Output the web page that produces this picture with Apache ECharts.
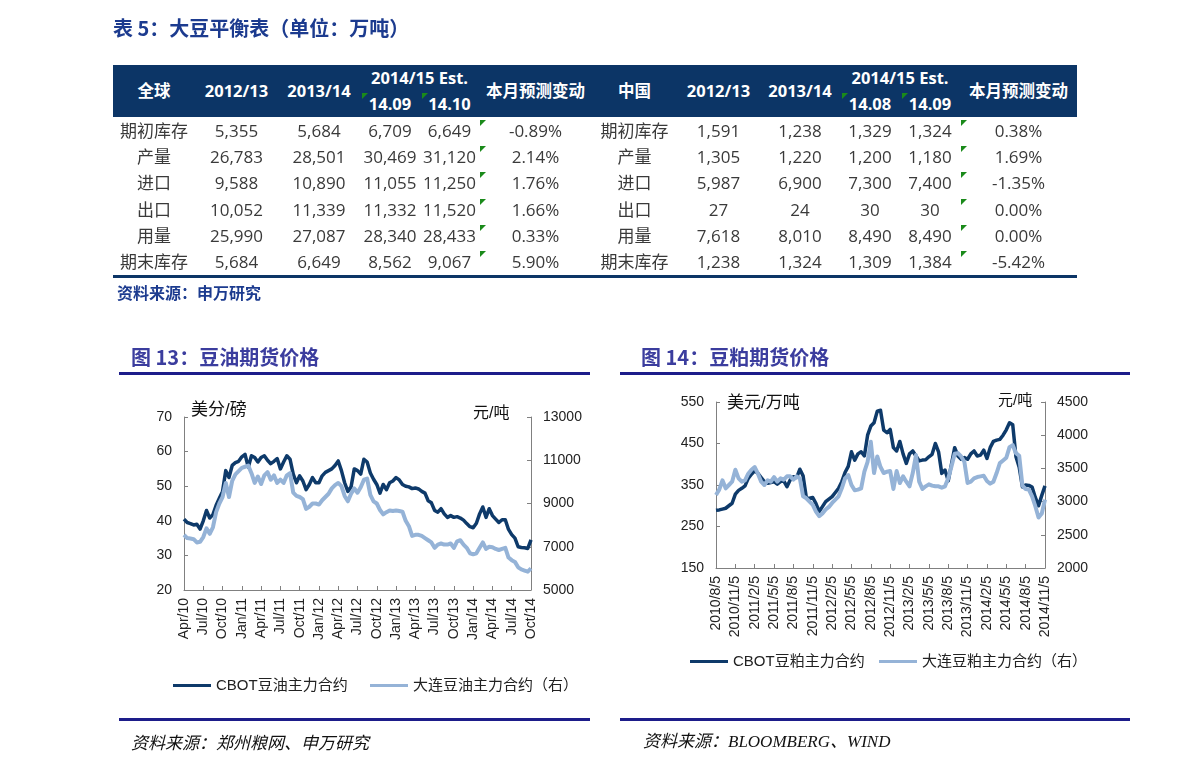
<!DOCTYPE html>
<html><head><meta charset="utf-8">
<script src="https://cdn.jsdelivr.net/npm/echarts@6/dist/echarts.min.js"></script>
<style>
html,body{margin:0;padding:0;background:#fff;}
body{width:1191px;height:770px;position:relative;overflow:hidden;font-family:"Liberation Sans","Noto Sans CJK SC",sans-serif;}
.a{position:absolute;white-space:nowrap;}
.c{position:absolute;white-space:nowrap;text-align:center;}
.tb{font-family:"Open Sans","Noto Sans CJK SC",sans-serif;font-size:17px;color:#3a3a3a;}
.th{font-family:"Open Sans","Noto Sans CJK SC",sans-serif;font-size:16.5px;font-weight:bold;color:#fff;}
.tri{position:absolute;width:0;height:0;border-top:6px solid #1a8a1a;border-right:6px solid transparent;}
</style></head><body>
<div id="chart" style="position:absolute;left:0;top:0;width:1191px;height:770px"></div>
<script>
// ---------- table data ----------
const tableTitle = '表 5：大豆平衡表（单位：万吨）';
const tableSource = '资料来源：申万研究';
const rowLabels = ['期初库存','产量','进口','出口','用量','期末库存'];
const globalHead = ['全球','2012/13','2013/14','2014/15 Est.','14.09','14.10','本月预测变动'];
const global1213 = ['5,355','26,783','9,588','10,052','25,990','5,684'];
const global1314 = ['5,684','28,501','10,890','11,339','27,087','6,649'];
const global1409 = ['6,709','30,469','11,055','11,332','28,340','8,562'];
const global1410 = ['6,649','31,120','11,250','11,520','28,433','9,067'];
const globalChg  = ['-0.89%','2.14%','1.76%','1.66%','0.33%','5.90%'];
const chinaHead = ['中国','2012/13','2013/14','2014/15 Est.','14.08','14.09','本月预测变动'];
const china1213 = ['1,591','1,305','5,987','27','7,618','1,238'];
const china1314 = ['1,238','1,220','6,900','24','8,010','1,324'];
const china1408 = ['1,329','1,200','7,300','30','8,490','1,309'];
const china1409 = ['1,324','1,180','7,400','30','8,490','1,384'];
const chinaChg  = ['0.38%','1.69%','-1.35%','0.00%','0.00%','-5.42%'];

// ---------- chart texts ----------
const fig13Title = '图 13：豆油期货价格';
const fig14Title = '图 14：豆粕期货价格';
const fig13Source = '资料来源：郑州粮网、申万研究';
const fig14Source = '资料来源：BLOOMBERG、WIND';
const oilNames = ['CBOT豆油主力合约','大连豆油主力合约（右）'];
const mealNames = ['CBOT豆粕主力合约','大连豆粕主力合约（右）'];
const oilUnits = ['美分/磅','元/吨'];
const mealUnits = ['美元/万吨','元/吨'];

// ---------- tick labels ----------
const oilTickLabels = ['Apr/10','Jul/10','Oct/10','Jan/11','Apr/11','Jul/11','Oct/11','Jan/12','Apr/12','Jul/12','Oct/12','Jan/13','Apr/13','Jul/13','Oct/13','Jan/14','Apr/14','Jul/14','Oct/14'];
const mealTickLabels = ['2010/8/5','2010/11/5','2011/2/5','2011/5/5','2011/8/5','2011/11/5','2012/2/5','2012/5/5','2012/8/5','2012/11/5','2013/2/5','2013/5/5','2013/8/5','2013/11/5','2014/2/5','2014/5/5','2014/8/5','2014/11/5'];

// ---------- series (semi-monthly readings) ----------
const oilCBOT = [40.5,39.5,39.2,38.8,39.0,37.6,40.0,43.0,40.8,41.8,
44.5,46.5,48.5,54.5,52.5,56.0,56.8,57.2,58.5,59.2,
55.5,58.8,58.3,57.0,58.3,58.8,57.5,56.5,57.2,58.0,
55.0,57.0,58.8,57.8,53.5,51.0,53.0,51.5,49.0,50.5,
52.5,51.0,51.0,53.0,54.0,54.5,55.0,56.0,57.3,54.5,
51.0,48.5,49.8,55.0,54.5,53.5,57.8,57.0,53.8,52.0,
50.5,48.0,50.5,49.0,51.0,51.5,52.5,51.8,50.5,50.0,
49.8,49.3,49.5,49.2,48.5,48.0,45.8,45.2,43.0,42.5,
43.5,42.0,41.0,41.5,41.0,41.2,40.8,40.2,39.2,38.3,
38.0,39.3,42.0,44.0,41.0,43.5,41.5,40.5,39.5,40.3,
40.3,37.5,36.0,35.0,32.5,32.3,32.2,32.0,34.5];
const oilDalian = [7550,7400,7380,7350,7200,7230,7450,7850,7600,7900,
8600,9000,9300,9950,9300,10050,10350,10500,10650,10700,
10750,10400,9950,10250,9900,10300,10450,10100,10300,9950,
10100,9950,10300,10400,9500,9350,9300,9200,8750,8850,
9000,9000,8950,9150,9300,9450,9700,9850,9950,9800,
9350,9100,9450,9700,9500,9750,10100,10150,9400,9100,
9000,8700,8500,8600,8680,8650,8680,8650,8620,8200,
7950,7500,7550,7550,7500,7400,7300,7200,6950,7100,
7150,7100,7100,7150,6950,7250,7300,7100,6950,6700,
6650,6700,6950,7200,6900,7000,6980,6900,6850,6900,
6950,6500,6380,6300,6050,5950,5900,5850,6000];
const mealCBOT = [289,290,292,294,300,306,328,337,342,348,
366,376,384,378,368,358,354,356,358,352,
358,360,346,362,370,368,388,372,320,318,
320,305,286,298,310,316,322,332,342,358,
380,395,430,410,425,430,420,470,492,500,
528,530,482,476,484,440,432,455,425,402,
425,432,420,408,410,411,418,424,450,430,
378,386,360,400,440,420,412,416,412,425,
432,420,422,434,414,440,455,458,460,470,
483,500,495,418,393,345,350,349,345,320,
300,325,348];
const mealDalian = [3100,3180,3320,3200,3250,3300,3480,3350,3300,3320,
3420,3480,3520,3420,3300,3250,3320,3300,3370,3300,
3350,3330,3380,3380,3330,3380,3350,3080,3050,3000,
2950,2850,2780,2820,2880,2920,2980,3030,3080,3200,
3350,3400,3250,3170,3180,3200,3450,3600,3900,3430,
3680,3520,3430,3450,3460,3190,3460,3280,3380,3300,
3230,3430,3700,3300,3190,3230,3260,3240,3230,3230,
3210,3230,3350,3530,3720,3730,3680,3600,3280,3300,
3350,3370,3380,3390,3310,3270,3300,3430,3580,3620,
3660,3820,3850,3730,3690,3240,3190,3180,3080,2930,
2760,2820,3030];

// ---------- HTML helpers ----------
function box(cls, text, css){
  const d = document.createElement('div');
  d.className = cls; d.textContent = text;
  for (const k in css) d.style[k] = (typeof css[k] === 'number') ? css[k] + 'px' : css[k];
  document.body.appendChild(d); return d;
}
const NAVY = '#0c3566';

// title
box('a', tableTitle, {left:113, top:15, fontSize:'20px', fontWeight:'bold', color:'#1c3b8f', fontFamily:'"Noto Sans CJK SC",sans-serif', lineHeight:'26px'});
// header band
box('a', '', {left:113, top:65, width:964, height:52, background:NAVY});
// bottom line
box('a', '', {left:113, top:275, width:964, height:3, background:NAVY});
box('a', tableSource, {left:117, top:281, fontSize:'16px', fontWeight:'bold', color:'#1c3b8f', fontFamily:'"Noto Sans CJK SC",sans-serif', lineHeight:'22px'});

function buildTable(cols, head, colsData){
  const hc = (text, l, w, cy) => box('c th', text, {left:l, width:w, top:cy-11, height:22, lineHeight:'22px'});
  hc(head[0], cols[0][0], cols[0][1], 91);
  hc(head[1], cols[1][0], cols[1][1], 91);
  hc(head[2], cols[2][0], cols[2][1], 91);
  hc(head[3], cols[3][0], cols[3][1] + cols[4][1], 78);
  hc(head[4], cols[3][0], cols[3][1], 104);
  hc(head[5], cols[4][0], cols[4][1], 104);
  hc(head[6], cols[5][0], cols[5][1], 91);
  box('tri', '', {left:cols[3][0] + 2, top:93});
  box('tri', '', {left:cols[4][0] + 2, top:93});
  for (let r = 0; r < rowLabels.length; r++){
    const cy = 131 + 26.2 * r;
    const vals = [rowLabels[r]].concat(colsData.map(a => a[r]));
    for (let c = 0; c < 6; c++){
      box('c tb', vals[c], {left:cols[c][0], width:cols[c][1], top:cy-12, height:24, lineHeight:'24px'});
    }
    box('tri', '', {left:cols[5][0] + 1, top:118 + 26.2 * r + 2});
  }
}
buildTable([[113,82],[195,83],[278,82],[360,60],[420,59],[479,113]], globalHead,
  [global1213, global1314, global1409, global1410, globalChg]);
buildTable([[592,85],[677,83],[760,80],[840,60],[900,60],[960,117]], chinaHead,
  [china1213, china1314, china1408, china1409, chinaChg]);

// figure headings, rules and sources
const figCss = {fontSize:'20px', fontWeight:'bold', color:'#3b3d9e', fontFamily:'"Noto Sans CJK SC",sans-serif', lineHeight:'26px'};
box('a', fig13Title, Object.assign({left:131, top:344}, figCss));
box('a', fig14Title, Object.assign({left:641, top:344}, figCss));
const RULE = '#1d1d8a';
box('a', '', {left:119, top:372, width:471, height:3, background:RULE});
box('a', '', {left:620, top:372, width:510, height:3, background:RULE});
box('a', '', {left:119, top:718, width:471, height:3, background:RULE});
box('a', '', {left:620, top:718, width:510, height:3, background:RULE});
const srcCss = {fontSize:'17px', fontStyle:'italic', color:'#111', lineHeight:'24px'};
box('a', fig13Source, Object.assign({left:131, top:730, fontFamily:'"Noto Sans CJK SC",sans-serif'}, srcCss));
box('a', fig14Source, Object.assign({left:643, top:730, fontFamily:'"Liberation Serif","Noto Sans CJK SC",serif'}, srcCss));

// ---------- categories ----------
function semiMonthly(startYear, startMonth, count, d1, d2){
  const out = [];
  for (let i = 0; i < count; i++){
    const m = startMonth + Math.floor(i / 2);
    const y = startYear + Math.floor(m / 12);
    out.push(y + '/' + (m % 12 + 1) + '/' + (i % 2 ? d2 : d1));
  }
  return out;
}
const oilCats = semiMonthly(2010, 3, oilCBOT.length, 1, 15);
const mealCats = semiMonthly(2010, 7, mealCBOT.length, 5, 20);

// ---------- chart ----------
const AX = '#808080', LBL = '#222', DARK = '#0e3a6a', LIGHT = '#95b3d7';
const FONT = '"Liberation Sans","Noto Sans CJK SC",sans-serif';
function xAx(g, cats, labels){
  return {type:'category', gridIndex:g, data:cats, boundaryGap:false,
    axisLine:{lineStyle:{color:AX, width:1}},
    axisTick:{inside:true, length:4, interval:5, lineStyle:{color:AX}},
    axisLabel:{interval:5, rotate:90, margin:8, fontSize:14, color:LBL, fontFamily:FONT,
      formatter:(v, i) => labels[Math.round(i / 6)]},
    splitLine:{show:false}};
}
function yAx(g, pos, min, max, interval){
  return {type:'value', gridIndex:g, position:pos, min, max, interval,
    axisLine:{show:true, lineStyle:{color:AX, width:1}},
    axisTick:{show:true, inside:true, length:4, lineStyle:{color:AX}},
    axisLabel:{fontSize:14, color:LBL, margin:12, fontFamily:FONT, formatter:v => String(v)},
    splitLine:{show:false}};
}
function ser(name, x, y, data, color, w){
  return {name, type:'line', xAxisIndex:x, yAxisIndex:y, data, symbol:'none', showSymbol:false,
    lineStyle:{color, width:w, join:'round'}, itemStyle:{color}, animation:false};
}
function leg(name, left, top){
  return {data:[name], left, top, padding:0, icon:'rect', itemWidth:38, itemHeight:3, itemGap:0,
    selectedMode:false, textStyle:{fontSize:15, color:LBL, fontFamily:FONT}};
}
const chart = echarts.init(document.getElementById('chart'), null, {renderer:'canvas'});
chart.setOption({
  animation:false,
  backgroundColor:'#fff',
  textStyle:{fontFamily:FONT},
  grid:[
    {left:184, top:417, width:347, height:173, containLabel:false},
    {left:716, top:402, width:329, height:166, containLabel:false}
  ],
  xAxis:[xAx(0, oilCats, oilTickLabels), xAx(1, mealCats, mealTickLabels)],
  yAxis:[
    yAx(0, 'left', 20, 70, 10), yAx(0, 'right', 5000, 13000, 2000),
    yAx(1, 'left', 150, 550, 100), yAx(1, 'right', 2000, 4500, 500)
  ],
  legend:[
    leg(oilNames[0], 173, 678), leg(oilNames[1], 370, 678),
    leg(mealNames[0], 690, 654), leg(mealNames[1], 879, 654)
  ],
  graphic:[
    {type:'text', left:191, top:402, style:{text:oilUnits[0], fontSize:17, fill:'#111', fontFamily:FONT}},
    {type:'text', left:473, top:406, style:{text:oilUnits[1], fontSize:16, fill:'#111', fontFamily:FONT}},
    {type:'text', left:727, top:395, style:{text:mealUnits[0], fontSize:17, fill:'#111', fontFamily:FONT}},
    {type:'text', left:998, top:393, style:{text:mealUnits[1], fontSize:15, fill:'#111', fontFamily:FONT}}
  ],
  series:[
    ser(oilNames[0], 0, 0, oilCBOT, DARK, 3.5),
    ser(oilNames[1], 0, 1, oilDalian, LIGHT, 4),
    ser(mealNames[0], 1, 2, mealCBOT, DARK, 3.5),
    ser(mealNames[1], 1, 3, mealDalian, LIGHT, 4)
  ]
});
</script>
</body></html>
